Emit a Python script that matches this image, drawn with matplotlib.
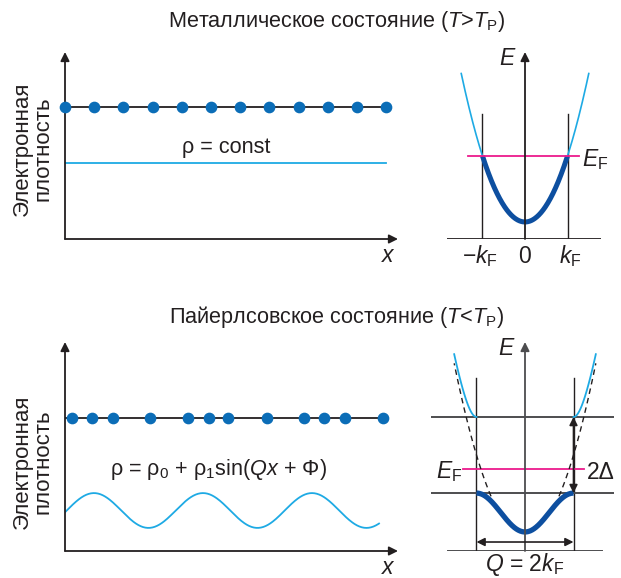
import numpy as np
import matplotlib.pyplot as plt

plt.rcParams['font.family'] = ['Liberation Sans', 'DejaVu Sans']
plt.rcParams['mathtext.fontset'] = 'custom'
plt.rcParams['mathtext.rm'] = 'Liberation Sans'
plt.rcParams['mathtext.it'] = 'Liberation Sans:italic'

# --- data ---
# metallic state: regular chain of sites (units of lattice spacing)
metal_sites = [0, 1, 2, 3, 4, 5, 6, 7, 8, 9, 10, 11]
rho_const = 1.0
# Peierls state: displaced sites and charge density wave
peierls_sites = [0.24, 0.92, 1.64, 2.91, 4.21, 4.93, 5.58, 6.92, 8.18, 8.87, 9.59, 10.89]
rho0 = 1.0
rho1 = 0.43
Q_wave = 1.684
phi = -0.10
wave_end = 10.75
# band pictures (k in units of kF, E in units of E(kF))
k_free_max = 1.5
E_fermi_metal = 1.0
E_fermi_peierls = 0.83
gap_delta = 0.47
band_bottom = 0.05
k_upper_max = 1.46
k_dashed = [0.70, 1.46]

W, H = 621, 578
BLACK = '#231f20'
GRAY = '#4d4d4f'
DOT = '#0b6db7'
LIGHT = '#1eaae4'
DARK = '#0d4fa0'
MAGENTA = '#ec1a8c'
FS = 15.6

fig = plt.figure(figsize=(W / 100, H / 100), dpi=100)


def panel(left, right, top, bottom, xlim, ylim):
    ax = fig.add_axes([left / W, 1 - bottom / H, (right - left) / W, (bottom - top) / H])
    ax.set_xlim(xlim)
    ax.set_ylim(ylim)
    ax.axis('off')
    return ax


def arrow(ax, start, end, color=BLACK, lw=1.3, style='-|>', ms=13):
    ax.annotate('', xy=end, xytext=start, annotation_clip=False,
                arrowprops=dict(arrowstyle=style, color=color, lw=lw,
                                mutation_scale=ms, shrinkA=0, shrinkB=0))


# titles
fig.text(337 / W, 1 - 21 / H, r'Металлическое состояние ($\mathit{T}$>$\mathit{T}_\mathrm{P}$)',
         ha='center', va='center', fontsize=FS, color=BLACK)
fig.text(337 / W, 1 - 317 / H, r'Пайерлсовское состояние ($\mathit{T}$<$\mathit{T}_\mathrm{P}$)',
         ha='center', va='center', fontsize=FS, color=BLACK)

# y labels
for cy in (149, 462):
    fig.text(22 / W, 1 - cy / H, 'Электронная', rotation=90, ha='center', va='center',
             fontsize=16, color=BLACK)
    fig.text(43 / W, 1 - cy / H, 'плотность', rotation=90, ha='center', va='center',
             fontsize=16, color=BLACK)

# ---------- top left: metal, density ----------
ax = panel(65, 398, 52, 239, (0, 11.4), (0, 2.46))
chain_y = 1.737
arrow(ax, (0, 0), (0, 2.46))
arrow(ax, (0, 0), (11.4, 0))
ax.plot([metal_sites[0], metal_sites[-1]], [chain_y, chain_y], color=BLACK, lw=1.3, zorder=2)
ax.plot(metal_sites, [chain_y] * len(metal_sites), 'o', ms=7.4, color=DOT, zorder=3, clip_on=False)
ax.plot([0, metal_sites[-1]], [rho_const, rho_const], color=LIGHT, lw=1.3)
ax.text(5.51, 1.21, 'ρ = const', ha='center', va='center', fontsize=FS, color=BLACK)
ax.text(11.06, -0.22, '$\\mathit{x}$', ha='center', va='center', fontsize=16.5, color=BLACK)

# ---------- top right: metal, band ----------
ax = panel(447, 601, 52, 239, (-1.835, 1.788), (-0.258, 2.576))
ax.plot([-1.835, 1.788], [-0.258, -0.258], color=BLACK, lw=1.3)
arrow(ax, (0, -0.258), (0, 2.576))
for kk in (-1, 1):
    ax.plot([kk, kk], [-0.258, 1.636], color=BLACK, lw=1.0)
k = np.linspace(-k_free_max, k_free_max, 200)
ax.plot(k, k ** 2, color=LIGHT, lw=1.2)
kf = np.linspace(-1, 1, 200)
ax.plot(kf, kf ** 2, color=DARK, lw=3.6, solid_capstyle='butt')
ax.plot([-1.34, 1.27], [E_fermi_metal, E_fermi_metal], color=MAGENTA, lw=1.3)
ax.text(-0.40, 2.48, '$\\mathit{E}$', ha='center', va='center', fontsize=16.5, color=BLACK)
ax.text(1.33, 0.94, r'$\mathit{E}_\mathrm{F}$', ha='left', va='center', fontsize=16.5, color=BLACK)
ax.text(-1.06, -0.52, r'−$\mathit{k}_\mathrm{F}$', ha='center', va='center', fontsize=16.5, color=BLACK)
ax.text(0, -0.52, '0', ha='center', va='center', fontsize=16.5, color=BLACK)
ax.text(1.06, -0.52, r'$\mathit{k}_\mathrm{F}$', ha='center', va='center', fontsize=16.5, color=BLACK)

# ---------- bottom left: Peierls, density ----------
ax = panel(65, 398, 342, 551, (0, 11.4), (0, 5.16))
chain_y = 3.28
arrow(ax, (0, 0), (0, 5.16))
arrow(ax, (0, 0), (11.4, 0))
ax.plot([0, 11.0], [chain_y, chain_y], color=BLACK, lw=1.3, zorder=2)
ax.plot(peierls_sites, [chain_y] * len(peierls_sites), 'o', ms=7.4, color=DOT, zorder=3)
x = np.linspace(0, wave_end, 400)
ax.plot(x, rho0 + rho1 * np.sin(Q_wave * x + phi), color=LIGHT, lw=1.3)
ax.text(5.24, 2.0, r'ρ = $\mathrm{ρ}_0$ + $\mathrm{ρ}_1$sin($\mathit{Qx}$ + Φ)',
        ha='center', va='center', fontsize=FS, color=BLACK)
ax.text(11.06, -0.40, '$\\mathit{x}$', ha='center', va='center', fontsize=16.5, color=BLACK)

# ---------- bottom right: Peierls, band ----------
ax = panel(431, 614, 342, 551, (-1.938, 1.835), (-0.185, 2.395))
ax.plot([-1.59, 1.59], [-0.185, -0.185], color=GRAY, lw=1.4)
arrow(ax, (0, -0.185), (0, 2.395), color=GRAY)
for kk in (-1, 1):
    ax.plot([kk, kk], [-0.185, 1.95], color=BLACK, lw=1.0)
for e in (1 + gap_delta, 1 - gap_delta):
    ax.plot([-1.938, 1.835], [e, e], color=GRAY, lw=1.4)
ax.plot([-1.28, 1.22], [E_fermi_peierls, E_fermi_peierls], color=MAGENTA, lw=1.3)
# unperturbed band (dashed)
for sgn in (-1, 1):
    kd = sgn * np.linspace(k_dashed[0], k_dashed[1], 100)
    ax.plot(kd, kd ** 2, color=BLACK, lw=1.0, ls=(0, (4, 3)))
# upper band beyond the gap
for sgn in (-1, 1):
    ku = np.linspace(1, k_upper_max, 100)
    e1, e2 = ku ** 2, (ku - 2) ** 2
    eu = (e1 + e2) / 2 + np.sqrt(((e1 - e2) / 2) ** 2 + gap_delta ** 2)
    ax.plot(sgn * ku, eu, color=LIGHT, lw=1.3)
# lower band
kl = np.linspace(-1, 1, 200)
el = band_bottom + (1 - gap_delta - band_bottom) * (1 - np.cos(np.pi * kl)) / 2
ax.plot(kl, el, color=DARK, lw=3.8, solid_capstyle='butt')
arrow(ax, (1, 1 - gap_delta), (1, 1 + gap_delta), style='<|-|>', ms=12, lw=1.2)
arrow(ax, (-1, -0.074), (1, -0.074), style='<|-|>', ms=12, lw=1.2)
ax.text(-0.37, 2.31, '$\\mathit{E}$', ha='center', va='center', fontsize=16.5, color=BLACK)
ax.text(-1.30, 0.80, r'$\mathit{E}_\mathrm{F}$', ha='right', va='center', fontsize=16.5, color=BLACK)
ax.text(1.28, 0.79, '2Δ', ha='left', va='center', fontsize=16.5, color=BLACK)
ax.text(0, -0.355, r'$\mathit{Q}$ = 2$\mathit{k}_\mathrm{F}$', ha='center', va='center',
        fontsize=16.5, color=BLACK)

fig.savefig('out.png', dpi=100)
